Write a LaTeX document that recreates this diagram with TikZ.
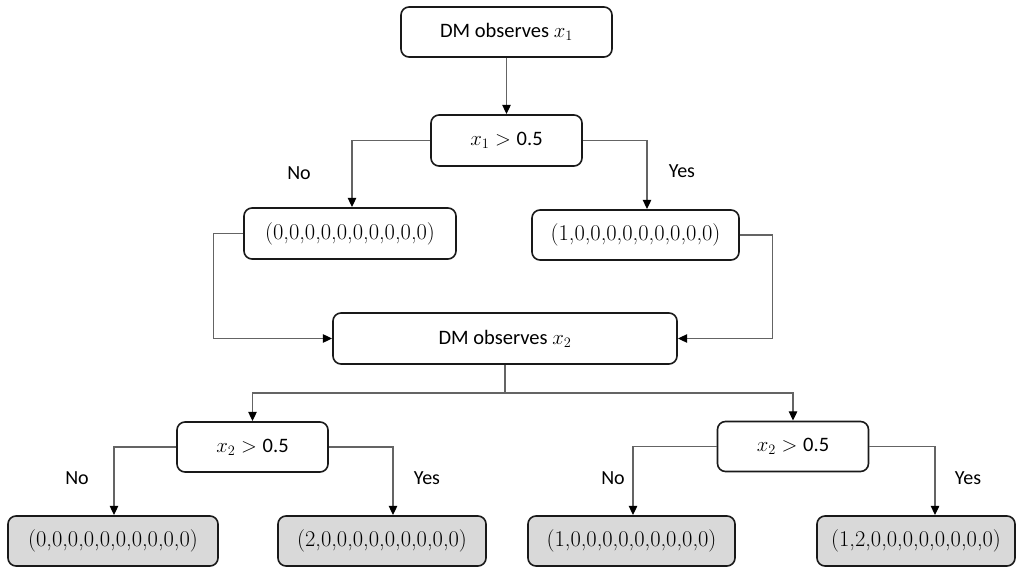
\documentclass[tikz,border=0pt]{standalone}
\usepackage{fontspec}
\setsansfont{Carlito}
\usetikzlibrary{arrows.meta,calc}
\definecolor{boxgray}{RGB}{217,217,217}
\definecolor{linegray}{RGB}{100,100,100}
\definecolor{borderc}{RGB}{25,25,25}
\tikzset{
  box/.style={draw=borderc, line width=1.6pt, rounded corners=8pt, rectangle,
    inner sep=0pt, minimum height=50pt, align=center,
    font=\sffamily\fontsize{20.5}{24}\selectfont},
  cond/.style={box, minimum width=151pt},
  tuple/.style={box, font=\rmfamily\fontsize{22.5}{26}\selectfont},
  leaf/.style={tuple, fill=boxgray},
  lab/.style={font=\sffamily\fontsize{20}{24}\selectfont, inner sep=0pt},
  conn/.style={draw=linegray, line width=1.1pt},
  arr/.style={conn, -{Triangle[length=9pt,width=8.5pt,color=black]}, shorten >=0.3pt},
}
\begin{document}
\begin{tikzpicture}[x=1pt,y=-1pt]
\useasboundingbox (0,0) rectangle (1017,569);
% nodes
\node[box, minimum width=211pt] (b1) at (506.5,32) {DM observes $x_1$};
\node[cond, minimum height=51pt] (b2) at (506.5,140.5) {$x_1 >{}$0.5};
\node[tuple, minimum width=212pt, minimum height=51pt] (b3) at (350,233.5) {(0,0,0,0,0,0,0,0,0,0)};
\node[tuple, minimum width=207pt] (b4) at (635.5,235) {(1,0,0,0,0,0,0,0,0,0)};
\node[box, minimum width=344pt, minimum height=51pt] (b5) at (505,338.5) {DM observes $x_2$};
\node[cond] (b6) at (252.5,447) {$x_2 >{}$0.5};
\node[cond] (b7) at (793,446.5) {$x_2 >{}$0.5};
\node[leaf, minimum width=210pt] (b8) at (113,541) {(0,0,0,0,0,0,0,0,0,0)};
\node[leaf, minimum width=208pt] (b9) at (382,541) {(2,0,0,0,0,0,0,0,0,0)};
\node[leaf, minimum width=207pt] (b10) at (631.5,541) {(1,0,0,0,0,0,0,0,0,0)};
\node[leaf, minimum width=198pt] (b11) at (916,541) {(1,2,0,0,0,0,0,0,0,0)};
% labels
\node[lab] (l1) at (299,173) {No};
\node[lab] (l2) at (682,171) {Yes};
\node[lab] (l3) at (77,478) {No};
\node[lab] (l4) at (427,478) {Yes};
\node[lab] (l5) at (613,478) {No};
\node[lab] (l6) at (968,478) {Yes};
% coordinates
\coordinate (j) at (505,393);
% connectors
\draw[arr] (b1) -- (b2);
\draw[arr] (b2.west) -| ([xshift=2pt]b3.north);
\draw[arr] (b2.east) -| ([xshift=11.5pt]b4.north);
\draw[arr] (b3.west) -- ++(-30,0) |- (b5.west);
\draw[arr] (b4.east) -- ++(33,0) |- (b5.east);
\draw[conn] (b5.south) -- (j);
\draw[arr] (j) -| (b6.north);
\draw[arr] (j) -| (b7.north);
\draw[arr] (b6.west) -| ([xshift=1pt]b8.north);
\draw[arr] (b6.east) -| ([xshift=11pt]b9.north);
\draw[arr] (b7.west) -| ([xshift=1.5pt]b10.north);
\draw[arr] (b7.east) -| ([xshift=19pt]b11.north);
\end{tikzpicture}
\end{document}
